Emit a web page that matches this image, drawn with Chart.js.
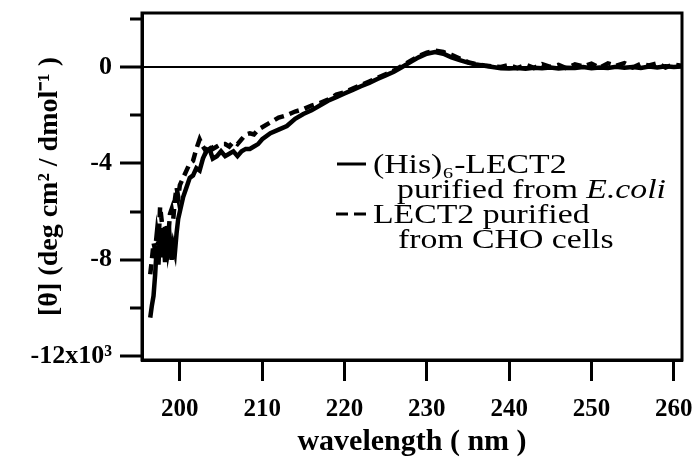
<!DOCTYPE html>
<html>
<head>
<meta charset="utf-8">
<script src="https://cdn.jsdelivr.net/npm/chart.js@4.4.1/dist/chart.umd.min.js"></script>
<style>
  html, body { margin: 0; padding: 0; background: #fff; }
</style>
</head>
<body>
<canvas id="myChart" width="692" height="459"></canvas>
<script>
// CD spectra
var wavelengths = [
  196.4, 196.6, 196.8, 197.0, 197.2, 197.4, 197.6, 197.8, 198.0, 198.2,
  198.4, 198.6, 198.8, 199.0, 199.2, 199.4, 199.6, 199.8, 200.0,
  200.4, 200.8, 201.2, 201.6, 202.0, 202.4, 202.8, 203.2, 203.6, 204.0,
  204.5, 205.0, 205.5, 206.0, 206.5, 207.0, 207.5, 208.0, 208.5, 209.0, 209.5,
  210, 211, 212, 213, 214, 215, 216, 217, 218, 219,
  220, 221, 222, 223, 224, 225, 226, 227, 228, 229,
  230, 231, 232, 233, 234, 235, 236, 237, 238, 239,
  240, 241, 242, 243, 244, 245, 246, 247, 248, 249,
  250, 251, 252, 253, 254, 255, 256, 257, 258, 259,
  260, 261
];
// (His)6-LECT2 from E.coli  (x10^3)
var hisLect2 = [
  -10.4, -9.9, -9.5, -8.6, -7.4, -8.2, -6.8, -7.9, -7.0, -8.1,
  -6.6, -7.6, -7.2, -8.0, -7.4, -7.7, -6.9, -6.3, -6.0,
  -5.4, -5.0, -4.6, -4.5, -4.2, -4.3, -3.8, -3.5, -3.4, -3.8,
  -3.7, -3.5, -3.7, -3.6, -3.5, -3.7, -3.5, -3.4, -3.4, -3.3, -3.2,
  -3.0, -2.75, -2.6, -2.45, -2.15, -1.95, -1.8, -1.6, -1.4, -1.25,
  -1.1, -0.95, -0.8, -0.66, -0.5, -0.35, -0.2, 0.0, 0.2, 0.4,
  0.55, 0.62, 0.55, 0.4, 0.28, 0.18, 0.1, 0.05, 0.0, -0.05,
  -0.06, -0.04, -0.07, -0.03, -0.05, -0.02, -0.06, -0.03, -0.04, 0.0,
  -0.05, -0.02, -0.04, 0.01, -0.03, 0.0, -0.04, 0.02, -0.02, 0.03,
  0.0, 0.02
];
// LECT2 from CHO cells
var choLect2 = [
  -8.6, -8.0, -7.3, -7.6, -6.9, -7.4, -5.8, -6.4, -7.2, -6.6,
  -7.8, -7.0, -6.1, -5.9, -6.3, -5.5, -5.0, -5.4, -4.9,
  -4.6, -4.3, -4.0, -3.9, -3.4, -3.0, -3.3, -3.5, -3.2, -3.4,
  -3.3, -3.2, -3.2, -3.3, -3.1, -3.2, -3.0, -2.8, -2.75, -2.8, -2.6,
  -2.5, -2.3, -2.1, -2.0, -1.85, -1.75, -1.6, -1.5, -1.35, -1.15,
  -1.05, -0.9, -0.75, -0.6, -0.45, -0.3, -0.15, 0.05, 0.25, 0.45,
  0.6, 0.68, 0.62, 0.5, 0.35, 0.2, 0.12, 0.06, 0.02, 0.0,
  0.08, -0.05, 0.1, -0.04, 0.12, 0.0, 0.09, -0.06, 0.11, 0.02,
  0.14, -0.03, 0.15, 0.05, 0.16, -0.02, 0.13, 0.06, 0.15, -0.02,
  0.1, 0.05
];
var xTicks = [200, 210, 220, 230, 240, 250, 260];
var yTicks = [-12, -10, -8, -6, -4, -2, 0, 2];
var yTickLabels = ["-12x10\u00B3", "", "-8", "", "-4", "", "0", ""];

var serif = "'Liberation Serif', 'Times New Roman', serif";

function pts(ys) {
  return wavelengths.map(function (w, i) { return { x: w, y: ys[i] }; });
}

// box round the plot
var framePlugin = {
  id: "frame",
  afterDraw: function (chart) {
    var a = chart.chartArea, c = chart.ctx;
    c.save();
    c.strokeStyle = "#000";
    c.lineWidth = 3;
    c.strokeRect(a.left, a.top, a.right - a.left, a.bottom - a.top);
    c.restore();
  }
};

// legend inside the plot, two lines per entry
var legendPlugin = {
  id: "boxLegend",
  afterDatasetsDraw: function (chart) {
    var c = chart.ctx;
    var ds = chart.data.datasets;
    var sx = 1.25;
    function txt(parts, x, y) {
      c.save();
      c.translate(x, y);
      c.scale(sx, 1);
      var off = 0;
      parts.forEach(function (p) {
        c.font = (p.italic ? "italic " : "") + "27px " + serif;
        c.fillText(p.t, off, 0);
        off += c.measureText(p.t).width;
      });
      c.restore();
    }
    c.save();
    c.fillStyle = "#000";
    c.textBaseline = "alphabetic";
    // sample lines
    c.strokeStyle = ds[0].borderColor;
    c.lineWidth = 3;
    c.setLineDash([]);
    c.beginPath(); c.moveTo(337, 164); c.lineTo(366, 164); c.stroke();
    c.setLineDash([12, 6]);
    c.beginPath(); c.moveTo(336, 214); c.lineTo(370, 214); c.stroke();
    c.setLineDash([]);
    txt([{ t: "(His)\u2086-LECT2" }], 373, 173);
    txt([{ t: "purified from " }, { t: "E.coli", italic: true }], 397, 198);
    txt([{ t: "LECT2 purified" }], 373, 223);
    txt([{ t: "from CHO cells" }], 398, 248);
    c.restore();
  }
};

var ch = document.getElementById("myChart");
new Chart(ch, {
  type: "line",
  data: {
    datasets: [
      {
        label: "(His)6-LECT2 purified from E.coli",
        data: pts(hisLect2),
        borderColor: "#000",
        borderWidth: 4.5,
        pointRadius: 0,
        tension: 0,
        fill: false
      },
      {
        label: "LECT2 purified from CHO cells",
        data: pts(choLect2),
        borderColor: "#000",
        borderWidth: 4.5,
        borderDash: [10, 6],
        pointRadius: 0,
        tension: 0,
        fill: false
      }
    ]
  },
  options: {
    responsive: false,
    animation: false,
    layout: { padding: { top: 13, right: 10, left: 0, bottom: 0 } },
    plugins: { legend: { display: false }, tooltip: { enabled: false } },
    scales: {
      x: {
        type: "linear",
        min: 195.4,
        max: 261,
        afterBuildTicks: function (s) { s.ticks = xTicks.map(function (v) { return { value: v }; }); },
        afterFit: function (s) { s.height = 99; s.paddingLeft = 0; s.paddingRight = 0; },
        ticks: {
          color: "#000",
          autoSkip: false,
          maxRotation: 0,
          padding: 14,
          font: { family: serif, size: 25, weight: "bold" },
          callback: function (v) { return String(v); }
        },
        grid: { drawOnChartArea: false, tickLength: 21, tickWidth: 3, tickColor: "#000" },
        border: { color: "#000", width: 3 },
        title: {
          display: true,
          text: "wavelength ( nm )",
          color: "#000",
          font: { family: serif, size: 30, weight: "bold", lineHeight: 1 },
          padding: { top: 0, bottom: 2 }
        }
      },
      y: {
        min: -12.16,
        max: 2.24,
        afterBuildTicks: function (s) { s.ticks = yTicks.map(function (v) { return { value: v }; }); },
        afterFit: function (s) { s.width = 142; s.paddingTop = 0; s.paddingBottom = 0; },
        ticks: {
          color: "#000",
          autoSkip: false,
          padding: 8,
          font: { family: serif, size: 26, weight: "bold" },
          callback: function (v, i) { return yTickLabels[i]; }
        },
        grid: {
          color: function (c) { return c.tick && c.tick.value === 0 ? "#000" : "rgba(0,0,0,0)"; },
          lineWidth: 2,
          tickLength: 22,
          tickWidth: 3,
          tickColor: "#000",
          tickBorderDash: function (c) { return c.tick && c.tick.value % 4 !== 0 ? [0, 10, 40] : []; }
        },
        border: { color: "#000", width: 3 },
        title: {
          display: true,
          text: "[\u03B8] (deg cm\u00B2 / dmol\u207B\u00B9 )",
          color: "#000",
          font: { family: serif, size: 28, weight: "bold" },
          padding: { top: 33, bottom: 0 }
        }
      }
    }
  },
  plugins: [framePlugin, legendPlugin]
});
</script>
</body>
</html>
